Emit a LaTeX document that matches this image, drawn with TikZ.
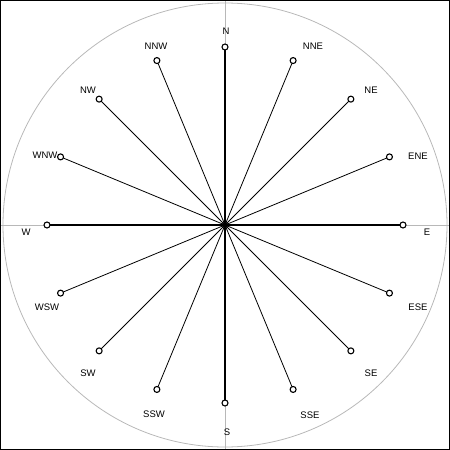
\documentclass[tikz,border=0pt]{standalone}
\usepackage{fontspec}
\setmainfont{Liberation Sans}
\begin{document}
\begin{tikzpicture}[x=1pt,y=-1pt,
  frame/.style={draw=black,line width=2.5pt},
  guide/.style={draw=black!28,line width=0.8pt},
  ray/.style={draw=black,line width=0.8pt},
  mainray/.style={draw=black,line width=1.2pt},
  marker/.style={circle,draw=black,fill=white,line width=1.1pt,inner sep=0pt,minimum size=6pt},
  hub/.style={circle,fill=black,inner sep=0pt,minimum size=6pt},
  lbl/.style={font=\fontsize{9.5}{11}\selectfont,inner sep=0pt}]
\useasboundingbox (0,0) rectangle (450,450);
\coordinate (c) at (225,225);
\coordinate (gt) at (225,0);
\coordinate (gb) at (225,450);
\coordinate (gl) at (0,225);
\coordinate (gr) at (450,225);
\draw[guide] (c) circle (222);
\draw[guide] (gt) -- (gb);
\draw[guide] (gl) -- (gr);
\foreach \i/\n/\lx/\ly in {0/N/226/31, 1/NNE/313/46, 2/NE/371/90, 3/ENE/418/156,
  4/E/427/232, 5/ESE/418/307, 6/SE/371/373, 7/SSE/310/415,
  8/S/227/432, 9/SSW/154/414, 10/SW/88/373, 11/WSW/47/307,
  12/W/26/232, 13/WNW/45/155, 14/NW/88/90, 15/NNW/156/46} {
  \coordinate (p\i) at ([shift={(\i*22.5-90:178)}]c);
  \node[lbl] (l\i) at (\lx,\ly) {\n};
}
\node[hub] (ctr) at (c) {};
\foreach \i in {1,2,3,5,6,7,9,10,11,13,14,15} {
  \draw[ray] (ctr.center) -- (p\i);
}
\foreach \i in {0,4,8,12} {
  \draw[mainray] (ctr.center) -- (p\i);
}
\foreach \i in {0,...,15} {
  \node[marker] (m\i) at (p\i) {};
}
\node[hub] at (c) {};
\draw[frame] (0,0) rectangle (450,450);
\end{tikzpicture}
\end{document}
